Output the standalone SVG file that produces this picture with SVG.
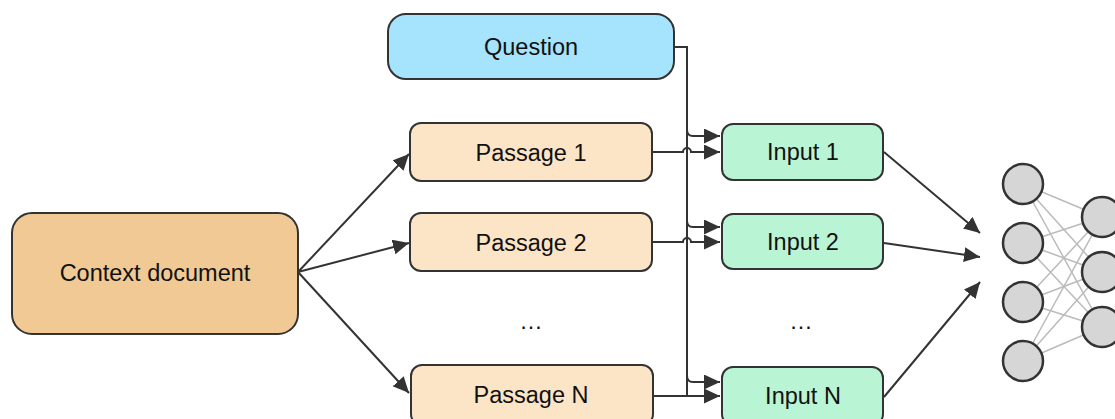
<svg xmlns="http://www.w3.org/2000/svg" width="1115" height="419" viewBox="0 0 1115 419">
<style>
text{font-family:"Liberation Sans",Arial,sans-serif;font-size:23.5px;fill:#111;text-anchor:middle;dominant-baseline:central}
.box{stroke:#333;stroke-width:2}
.edge{fill:none;stroke:#333;stroke-width:2}
.mesh{stroke:#bbb;stroke-width:1.5}
.neuron{fill:#d6d6d6;stroke:#333;stroke-width:2.5}
</style>
<defs>
<marker id="ah" markerUnits="userSpaceOnUse" markerWidth="18" markerHeight="16" refX="16" refY="7.5" orient="auto">
<path d="M0,0 L16,7.5 L0,15 z" fill="#333"/>
</marker>
</defs>
<rect width="1115" height="419" fill="#fff"/>
<g id="connectors">
<path class="edge" d="M298,272 L409,154" marker-end="url(#ah)"/>
<path class="edge" d="M298,272 L409,243" marker-end="url(#ah)"/>
<path class="edge" d="M298,272 L409,393" marker-end="url(#ah)"/>
<path class="edge" d="M674,47 L687,47 L687,396"/>
<path class="edge" d="M687,130 Q687,136 693,136 L720,136" marker-end="url(#ah)"/>
<path class="edge" d="M687,221 Q687,227 693,227 L720,227" marker-end="url(#ah)"/>
<path class="edge" d="M687,376 Q687,382 693,382 L720,382" marker-end="url(#ah)"/>
<path class="edge" d="M652,152 L683,152 A4,4 0 0 1 691,152 L720,152" marker-end="url(#ah)"/>
<path class="edge" d="M652,242 L683,242 A4,4 0 0 1 691,242 L720,242" marker-end="url(#ah)"/>
<path class="edge" d="M652,396 L720,396" marker-end="url(#ah)"/>
<path class="edge" d="M884,152 L980,233" marker-end="url(#ah)"/>
<path class="edge" d="M884,243 L980,257" marker-end="url(#ah)"/>
<path class="edge" d="M884,397 L980,282" marker-end="url(#ah)"/>
</g>
<g id="question"><rect class="box" x="388" y="14" width="286" height="65" rx="18" fill="#a6e3fc"/><text x="531" y="47">Question</text></g>
<g id="context"><rect class="box" x="12" y="213" width="286" height="121" rx="20" fill="#f0c995"/><text x="155" y="273">Context document</text></g>
<g id="passage1"><rect class="box" x="410" y="123" width="242" height="58" rx="11" fill="#fce4c7"/><text x="531" y="153">Passage 1</text></g>
<g id="passage2"><rect class="box" x="410" y="213" width="242" height="58" rx="11" fill="#fce4c7"/><text x="531" y="243">Passage 2</text></g>
<g id="passageN"><rect class="box" x="411" y="365" width="242" height="60" rx="11" fill="#fce4c7"/><text x="531" y="395">Passage N</text></g>
<g id="dots1"><text x="531" y="321">…</text></g>
<g id="input1"><rect class="box" x="722" y="124" width="161" height="56" rx="11" fill="#b9f5d5"/><text x="803" y="152">Input 1</text></g>
<g id="input2"><rect class="box" x="722" y="214" width="161" height="55" rx="11" fill="#b9f5d5"/><text x="803" y="242">Input 2</text></g>
<g id="inputN"><rect class="box" x="722" y="367" width="161" height="58" rx="11" fill="#b9f5d5"/><text x="803" y="396">Input N</text></g>
<g id="dots2"><text x="801" y="321">…</text></g>
<g id="network">
<g class="mesh">
<line x1="1023" y1="184" x2="1102" y2="217"/><line x1="1023" y1="184" x2="1102" y2="272"/><line x1="1023" y1="184" x2="1102" y2="327"/>
<line x1="1023" y1="243" x2="1102" y2="217"/><line x1="1023" y1="243" x2="1102" y2="272"/><line x1="1023" y1="243" x2="1102" y2="327"/>
<line x1="1023" y1="302" x2="1102" y2="217"/><line x1="1023" y1="302" x2="1102" y2="272"/><line x1="1023" y1="302" x2="1102" y2="327"/>
<line x1="1023" y1="361" x2="1102" y2="217"/><line x1="1023" y1="361" x2="1102" y2="272"/><line x1="1023" y1="361" x2="1102" y2="327"/>
</g>
<circle class="neuron" cx="1023" cy="184" r="20"/>
<circle class="neuron" cx="1023" cy="243" r="20"/>
<circle class="neuron" cx="1023" cy="302" r="20"/>
<circle class="neuron" cx="1023" cy="361" r="20"/>
<circle class="neuron" cx="1102" cy="217" r="20"/>
<circle class="neuron" cx="1102" cy="272" r="20"/>
<circle class="neuron" cx="1102" cy="327" r="20"/>
</g>
</svg>
